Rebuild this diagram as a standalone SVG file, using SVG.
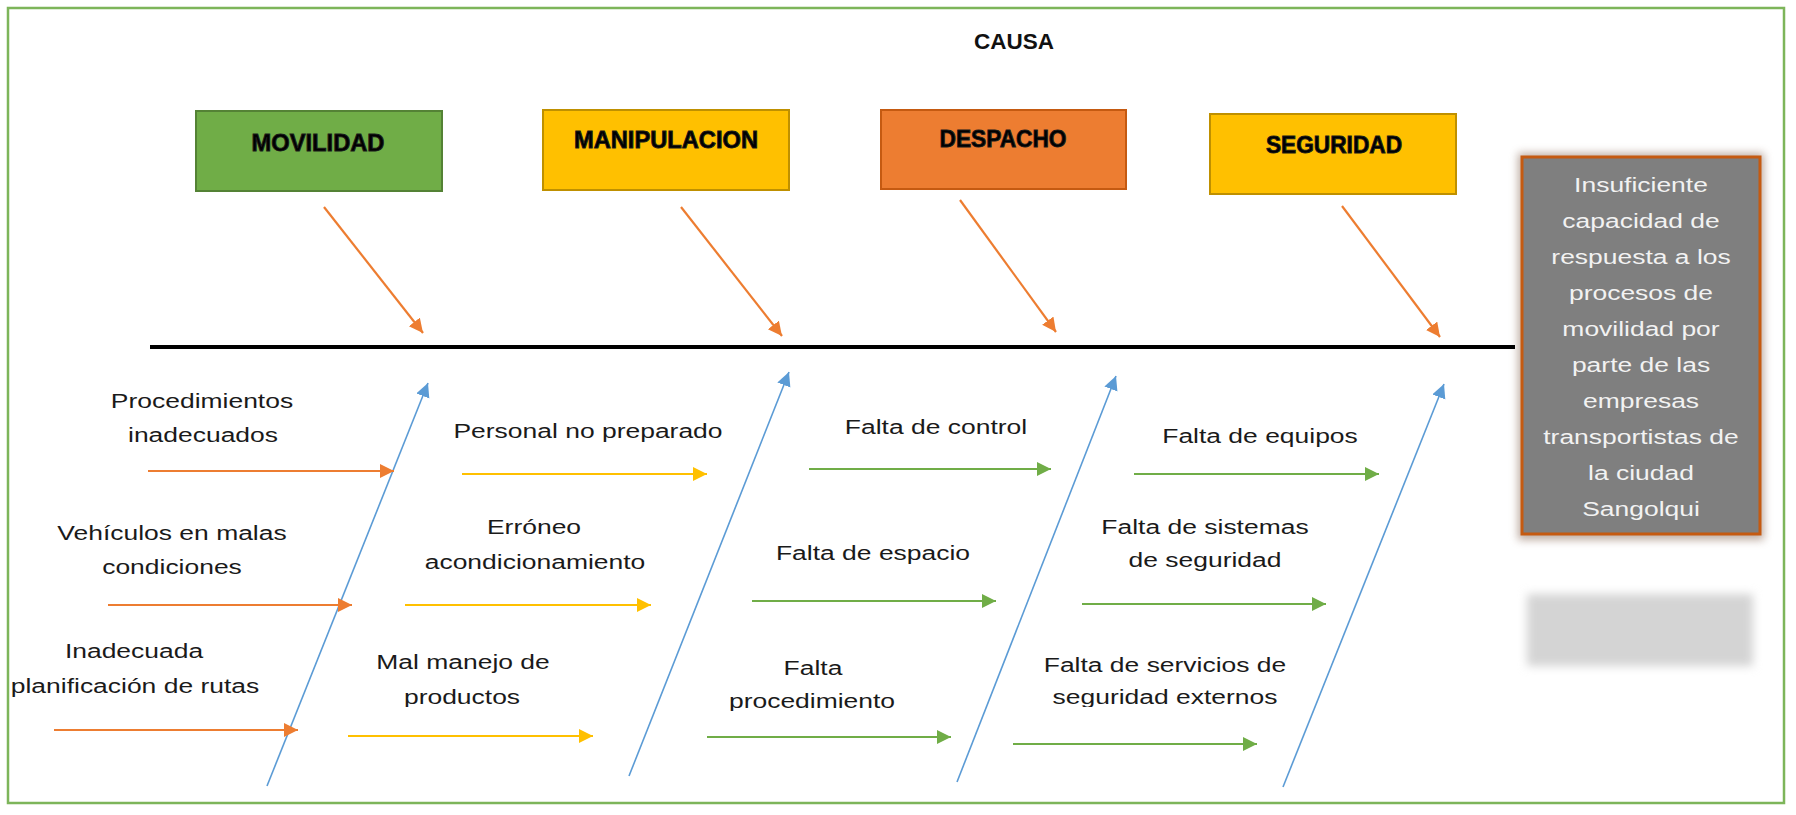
<svg xmlns="http://www.w3.org/2000/svg" width="1796" height="815" viewBox="0 0 1796 815">
<style>
.lbl{font-family:"Liberation Sans",Arial,sans-serif;font-size:21px;fill:#1a1a1a;text-anchor:middle}
.eff{font-family:"Liberation Sans",Arial,sans-serif;font-size:21px;fill:#f2f2f2;text-anchor:middle}
.ttl{font-family:"Liberation Sans",Arial,sans-serif;font-size:23px;font-weight:bold;fill:#000;stroke:#1a1a1a;stroke-width:0.9;text-anchor:middle}
.ora{stroke:#ED7D31;stroke-width:2.2;fill:none}
.yel{stroke:#FFC000;stroke-width:2;fill:none}
.grn{stroke:#70AD47;stroke-width:2;fill:none}
.blu{stroke:#5B9BD5;stroke-width:1.6;fill:none}
</style>
<defs>
<marker id="mO" markerUnits="userSpaceOnUse" markerWidth="16" markerHeight="16" refX="14" refY="7" orient="auto"><path d="M0,0 L14,7 L0,14 z" fill="#ED7D31"/></marker>
<marker id="mY" markerUnits="userSpaceOnUse" markerWidth="16" markerHeight="16" refX="14" refY="7" orient="auto"><path d="M0,0 L14,7 L0,14 z" fill="#FFC000"/></marker>
<marker id="mG" markerUnits="userSpaceOnUse" markerWidth="16" markerHeight="16" refX="14" refY="7" orient="auto"><path d="M0,0 L14,7 L0,14 z" fill="#70AD47"/></marker>
<marker id="mB" markerUnits="userSpaceOnUse" markerWidth="16" markerHeight="16" refX="14" refY="7" orient="auto"><path d="M0,0 L14,7 L0,14 z" fill="#5B9BD5"/></marker>
<filter id="blur6" x="-30%" y="-60%" width="160%" height="220%"><feGaussianBlur stdDeviation="5"/></filter>
<filter id="blur4" x="-20%" y="-20%" width="140%" height="140%"><feGaussianBlur stdDeviation="4"/></filter>
<clipPath id="clipA"><rect x="0" y="0" width="1796" height="711"/></clipPath>
<clipPath id="clipB"><rect x="0" y="0" width="1796" height="707"/></clipPath>
</defs>
<rect x="0" y="0" width="1796" height="815" fill="#fff"/>
<rect id="frame" x="8" y="8" width="1776" height="795" fill="none" stroke="#7DB55A" stroke-width="2.5"/>

<g id="title"><text x="1014" y="49" font-family="Liberation Sans, Arial, sans-serif" font-size="22.5" font-weight="bold" text-anchor="middle" fill="#111">CAUSA</text></g>

<g id="movilidad">
<rect x="196" y="111" width="246" height="80" fill="#70AD47" stroke="#548235" stroke-width="2"/>
<text class="ttl" x="318" y="151" textLength="133" lengthAdjust="spacingAndGlyphs">MOVILIDAD</text>
</g>
<g id="manipulacion">
<rect x="543" y="110" width="246" height="80" fill="#FFC000" stroke="#BF9000" stroke-width="2"/>
<text class="ttl" x="666" y="148" textLength="184" lengthAdjust="spacingAndGlyphs">MANIPULACION</text>
</g>
<g id="despacho">
<rect x="881" y="110" width="245" height="79" fill="#ED7D31" stroke="#C55A11" stroke-width="2"/>
<text class="ttl" x="1003" y="147" textLength="127" lengthAdjust="spacingAndGlyphs">DESPACHO</text>
</g>
<g id="seguridad">
<rect x="1210" y="114" width="246" height="80" fill="#FFC000" stroke="#BF9000" stroke-width="2"/>
<text class="ttl" x="1334" y="153" textLength="136" lengthAdjust="spacingAndGlyphs">SEGURIDAD</text>
</g>

<g id="efecto">
<rect x="1518" y="153" width="246" height="387" fill="#8a6a58" opacity="0.55" filter="url(#blur4)"/>
<rect x="1522" y="157" width="238" height="377" fill="#7F7F7F" stroke="#C55A11" stroke-width="3"/>
<text class="eff" transform="translate(1641 192) scale(1.26 1)">Insuficiente</text>
<text class="eff" transform="translate(1641 228) scale(1.26 1)">capacidad de</text>
<text class="eff" transform="translate(1641 264) scale(1.26 1)">respuesta a los</text>
<text class="eff" transform="translate(1641 300) scale(1.26 1)">procesos de</text>
<text class="eff" transform="translate(1641 336) scale(1.26 1)">movilidad por</text>
<text class="eff" transform="translate(1641 372) scale(1.26 1)">parte de las</text>
<text class="eff" transform="translate(1641 408) scale(1.26 1)">empresas</text>
<text class="eff" transform="translate(1641 444) scale(1.26 1)">transportistas de</text>
<text class="eff" transform="translate(1641 480) scale(1.26 1)">la ciudad</text>
<text class="eff" transform="translate(1641 516) scale(1.26 1)">Sangolqui</text>
</g>
<g id="sombra"><rect x="1527" y="594" width="226" height="72" fill="#d4d4d4" filter="url(#blur6)"/></g>

<g id="connectors">
<line x1="150" y1="347" x2="1515" y2="347" stroke="#000" stroke-width="4"/>
<line class="ora" x1="324" y1="207" x2="423" y2="333" marker-end="url(#mO)"/>
<line class="ora" x1="681" y1="207" x2="782" y2="336" marker-end="url(#mO)"/>
<line class="ora" x1="960" y1="200" x2="1056" y2="332" marker-end="url(#mO)"/>
<line class="ora" x1="1342" y1="206" x2="1440" y2="337" marker-end="url(#mO)"/>
<line class="blu" x1="267" y1="786" x2="428" y2="383" marker-end="url(#mB)"/>
<line class="blu" x1="629" y1="776" x2="789" y2="372" marker-end="url(#mB)"/>
<line class="blu" x1="957" y1="782" x2="1116" y2="376" marker-end="url(#mB)"/>
<line class="blu" x1="1283" y1="787" x2="1444" y2="384" marker-end="url(#mB)"/>
<line class="ora" x1="148" y1="471" x2="394" y2="471" stroke-width="1.8" marker-end="url(#mO)"/>
<line class="ora" x1="108" y1="605" x2="352" y2="605" stroke-width="1.8" marker-end="url(#mO)"/>
<line class="ora" x1="54" y1="730" x2="298" y2="730" stroke-width="1.8" marker-end="url(#mO)"/>
<line class="yel" x1="462" y1="474" x2="707" y2="474" stroke-width="3.5" marker-end="url(#mY)"/>
<line class="yel" x1="405" y1="605" x2="651" y2="605" marker-end="url(#mY)"/>
<line class="yel" x1="348" y1="736" x2="593" y2="736" marker-end="url(#mY)"/>
<line class="grn" x1="809" y1="469" x2="1051" y2="469" marker-end="url(#mG)"/>
<line class="grn" x1="752" y1="601" x2="996" y2="601" marker-end="url(#mG)"/>
<line class="grn" x1="707" y1="737" x2="951" y2="737" marker-end="url(#mG)"/>
<line class="grn" x1="1134" y1="474" x2="1379" y2="474" marker-end="url(#mG)"/>
<line class="grn" x1="1082" y1="604" x2="1326" y2="604" marker-end="url(#mG)"/>
<line class="grn" x1="1013" y1="744" x2="1257" y2="744" marker-end="url(#mG)"/>
</g>

<g id="causas-movilidad">
<text class="lbl" transform="translate(202 408) scale(1.26 1)">Procedimientos</text>
<text class="lbl" transform="translate(203 442) scale(1.26 1)">inadecuados</text>
<text class="lbl" transform="translate(172 540) scale(1.26 1)">Vehículos en malas</text>
<text class="lbl" transform="translate(172 574) scale(1.26 1)">condiciones</text>
<text class="lbl" transform="translate(134 658) scale(1.26 1)">Inadecuada</text>
<text class="lbl" transform="translate(135 693) scale(1.26 1)">planificación de rutas</text>
</g>
<g id="causas-manipulacion">
<text class="lbl" transform="translate(588 438) scale(1.26 1)">Personal no preparado</text>
<text class="lbl" transform="translate(534 534) scale(1.26 1)">Erróneo</text>
<text class="lbl" transform="translate(535 569) scale(1.26 1)">acondicionamiento</text>
<text class="lbl" transform="translate(463 669) scale(1.26 1)">Mal manejo de</text>
<g clip-path="url(#clipB)"><text class="lbl" transform="translate(462 704) scale(1.26 1)">productos</text></g>
</g>
<g id="causas-despacho">
<text class="lbl" transform="translate(936 434) scale(1.26 1)">Falta de control</text>
<text class="lbl" transform="translate(873 560) scale(1.26 1)">Falta de espacio</text>
<text class="lbl" transform="translate(813 675) scale(1.26 1)">Falta</text>
<g clip-path="url(#clipA)"><text class="lbl" transform="translate(812 708) scale(1.26 1)">procedimiento</text></g>
</g>
<g id="causas-seguridad">
<text class="lbl" transform="translate(1260 443) scale(1.26 1)">Falta de equipos</text>
<text class="lbl" transform="translate(1205 534) scale(1.26 1)">Falta de sistemas</text>
<text class="lbl" transform="translate(1205 567) scale(1.26 1)">de seguridad</text>
<text class="lbl" transform="translate(1165 672) scale(1.26 1)">Falta de servicios de</text>
<g clip-path="url(#clipB)"><text class="lbl" transform="translate(1165 704) scale(1.26 1)">seguridad externos</text></g>
</g>
</svg>
